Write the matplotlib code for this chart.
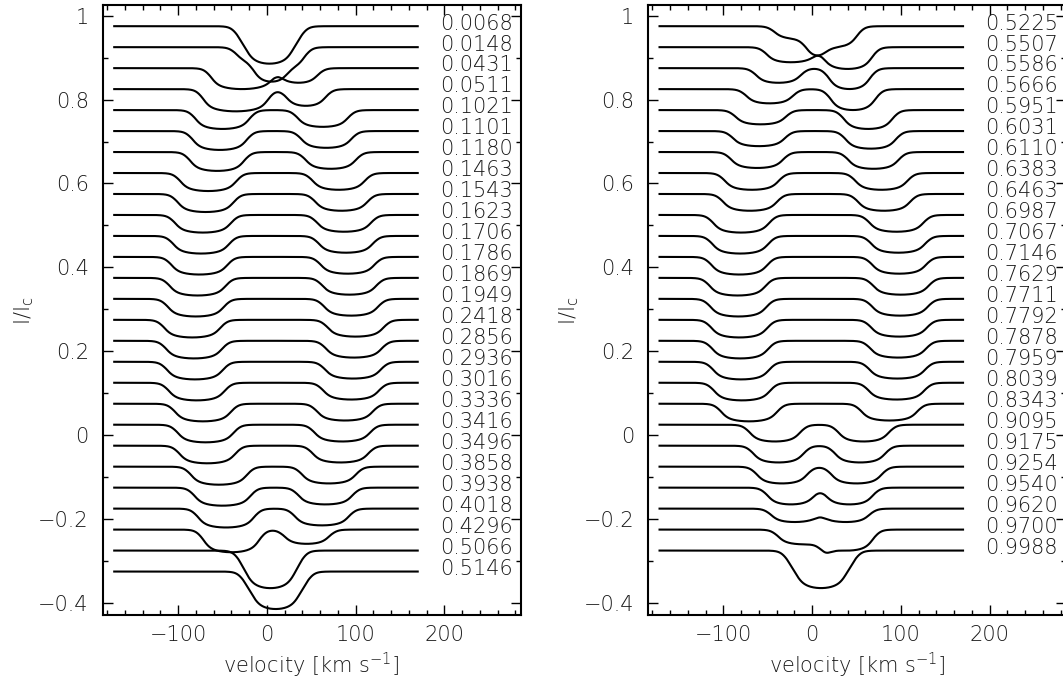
import numpy as np
import matplotlib
matplotlib.use('Agg')
import matplotlib.pyplot as plt
from matplotlib.ticker import MultipleLocator, FixedLocator, FuncFormatter

plt.rcParams['font.family'] = ['DejaVu Sans']
plt.rcParams['mathtext.default'] = 'regular'

# orbital phases (labels at the right of each profile)
phase_left = ['0.0068', '0.0148', '0.0431', '0.0511', '0.1021', '0.1101', '0.1180',
              '0.1463', '0.1543', '0.1623', '0.1706', '0.1786', '0.1869', '0.1949',
              '0.2418', '0.2856', '0.2936', '0.3016', '0.3336', '0.3416', '0.3496',
              '0.3858', '0.3938', '0.4018', '0.4296', '0.5066', '0.5146']
phase_right = ['0.5225', '0.5507', '0.5586', '0.5666', '0.5951', '0.6031', '0.6110',
               '0.6383', '0.6463', '0.6987', '0.7067', '0.7146', '0.7629', '0.7711',
               '0.7792', '0.7878', '0.7959', '0.8039', '0.8343', '0.9095', '0.9175',
               '0.9254', '0.9540', '0.9620', '0.9700', '0.9988']

# line components: blue-side dip, red-side dip (centre, half width, depth)
vL_left = [-2, -6, -28, -35, -50, -53, -56, -66, -69, -72, -74, -76, -78, -80,
           -84, -82, -81, -79, -72, -69, -67, -54, -50, -46, -40, 0, 5]
wL_left = [32, 30, 36, 38, 32, 32, 32, 33, 33, 33, 33, 33, 33, 33,
           33, 33, 33, 33, 33, 33, 33, 33, 33, 33, 33, 32, 32]
dL_left = [.045, .035, .05, .053, .045, .045, .045, .043, .043, .042, .042, .042, .042, .042,
           .042, .042, .042, .042, .042, .042, .042, .043, .043, .045, .054, .045, .045]
vR_left = [8, 14, 36, 44, 63, 67, 72, 81, 84, 87, 89, 91, 93, 95,
           100, 98, 97, 95, 88, 85, 83, 70, 66, 62, 45, 8, 15]
wR_left = [32, 30, 23, 24, 30, 30, 30, 31, 31, 32, 32, 32, 32, 32,
           33, 33, 33, 33, 33, 33, 33, 32, 32, 32, 27, 32, 32]
dR_left = [.045, .05, .035, .04, .04, .04, .04, .04, .04, .04, .04, .04, .04, .04,
           .04, .04, .04, .04, .04, .04, .04, .04, .04, .04, .034, .045, .045]

vL_right = [-14, -24, -38, -48, -58, -60, -62, -68, -70, -80, -81, -82, -84,
            -83, -82, -81, -80, -79, -71, -42, -38, -34, -24, -20, -10, 5]
wL_right = [30, 29, 27, 28, 30, 31, 31, 32, 32, 33, 33, 33, 33,
            33, 33, 33, 33, 33, 33, 30, 30, 30, 28, 28, 30, 34]
dL_right = [.03, .036, .035, .034, .034, .036, .038, .04, .04, .042, .042, .042, .042,
            .042, .042, .042, .042, .042, .042, .04, .04, .04, .04, .032, .035, .045]
vR_right = [22, 40, 42, 46, 63, 66, 69, 78, 81, 95, 97, 98, 100,
            99, 98, 97, 96, 95, 87, 58, 54, 50, 42, 38, 40, 15]
wR_right = [30, 29, 25, 27, 29, 30, 30, 31, 31, 32, 32, 32, 33,
            33, 33, 33, 33, 33, 33, 30, 30, 30, 28, 28, 30, 34]
dR_right = [.05, .052, .05, .05, .045, .042, .04, .04, .04, .04, .04, .04, .04,
            .04, .04, .04, .04, .04, .04, .04, .04, .04, .04, .032, .05, .045]

top_continuum = 0.975
step = 0.05
velocity = np.linspace(-172, 170, 800)


def dip(v, c, w, s=8.0, curve=0.25):
    box = 0.5 * (np.tanh((v - (c - w)) / s) - np.tanh((v - (c + w)) / s))
    return box * (1 - curve * np.clip(((v - c) / w) ** 2, 0, 1))


def minus(x, pos):
    return ('%g' % x).replace('-', '\u2212')


fig = plt.figure(figsize=(10.63, 6.87), dpi=100)
ax1 = fig.add_axes([0.0966, 0.1048, 0.3932, 0.8875])
ax2 = fig.add_axes([0.6096, 0.1048, 0.3932, 0.8875])

panels = [(ax1, phase_left, vL_left, wL_left, dL_left, vR_left, wR_left, dR_left),
          (ax2, phase_right, vL_right, wL_right, dL_right, vR_right, wR_right, dR_right)]

txt = '#1a1a1a'
for ax, labels, vL, wL, dL, vR, wR, dR in panels:
    for i, lab in enumerate(labels):
        cont = top_continuum - i * step
        prof = cont - dL[i] * dip(velocity, vL[i], wL[i]) - dR[i] * dip(velocity, vR[i], wR[i])
        ax.plot(velocity, prof, color='black', lw=1.5)
        ax.text(277, cont - 0.008, lab, ha='right', va='baseline', fontsize=15,
                color=txt, fontweight='light')

    ax.set_xlim(-185, 286)
    ax.set_ylim(-0.4286, 1.0248)
    ax.xaxis.set_major_locator(FixedLocator([-100, 0, 100, 200]))
    ax.xaxis.set_minor_locator(MultipleLocator(20))
    ax.yaxis.set_major_locator(FixedLocator([-0.4, -0.2, 0, 0.2, 0.4, 0.6, 0.8, 1.0]))
    ax.yaxis.set_minor_locator(MultipleLocator(0.1))
    ax.xaxis.set_major_formatter(FuncFormatter(minus))
    ax.yaxis.set_major_formatter(FuncFormatter(minus))
    ax.tick_params(which='both', direction='in', top=True, right=True, width=1.0,
                   labelsize=15, labelcolor=txt)
    ax.tick_params(which='major', length=7, pad=7)
    ax.tick_params(which='minor', length=3.5)
    ax.tick_params(axis='y', which='major', pad=10)
    for t in ax.get_xticklabels() + ax.get_yticklabels():
        t.set_fontweight('light')
    for sp in ax.spines.values():
        sp.set_linewidth(1.5)

    ax.set_xlabel('velocity [km s$^{-1}$]', fontsize=15, color=txt, va='center',
                  fontweight='light')
    ax.xaxis.set_label_coords(0.5, -0.082)
    ax.set_ylabel('I/I$_c$', fontsize=15, color=txt, va='center', fontweight='light')
    ax.yaxis.set_label_coords(-0.188, 0.5)

fig.savefig('out.png', dpi=100)
